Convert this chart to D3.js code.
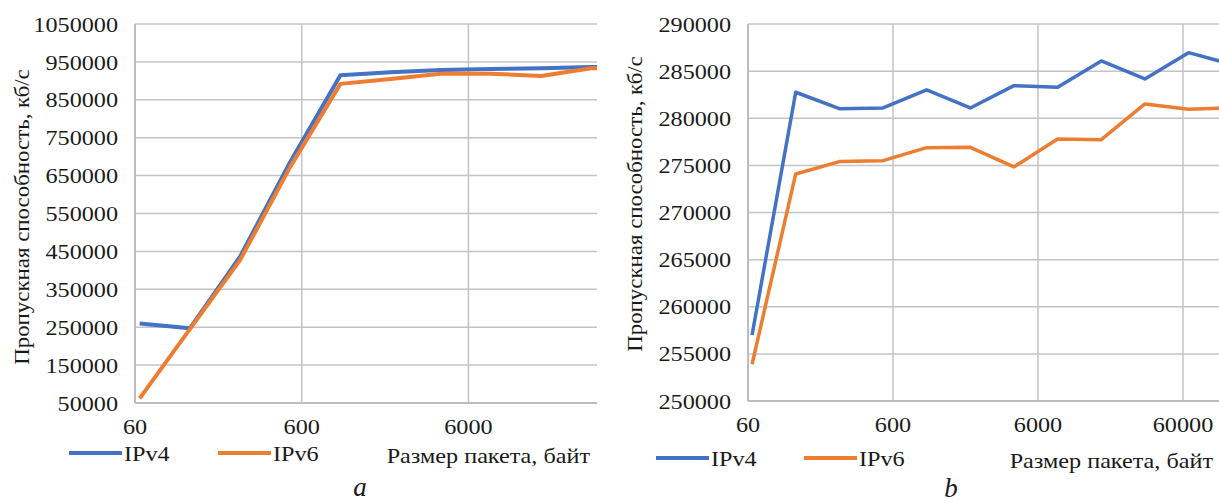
<!DOCTYPE html>
<html>
<head>
<meta charset="utf-8">
<script src="https://cdn.jsdelivr.net/npm/d3@7"></script>
<style>
  html, body { margin: 0; padding: 0; background: #fff; }
  svg { display: block; }
  text { font-family: 'Liberation Serif', 'DejaVu Serif', serif; fill: #1a1a1a; }
</style>
</head>
<body>
<svg id="chart" width="1219" height="503"></svg>
<script>
// packet sizes, bytes
const sizesA = [64, 128, 256, 512, 1024, 2048, 4096, 8192, 16384, 32768, 65536];
const ipv4A = [260000, 247000, 436000, 686000, 915000, 923000, 928500, 931000, 933500, 936500, 937500];
const ipv6A = [62000, 245000, 427000, 673000, 892000, 905000, 919000, 919000, 913000, 933000, 934000];

const sizesB = [64, 128, 256, 512, 1024, 2048, 4096, 8192, 16384, 32768, 65536, 131072];
const ipv4B = [257000, 282760, 281020, 281090, 283000, 281090, 283460, 283280, 286080, 284170, 286960, 285700];
const ipv6B = [253900, 274090, 275400, 275500, 276880, 276920, 274840, 277800, 277730, 281520, 280950, 281100];

const xTicksA = [60, 600, 6000];
const xTicksB = [60, 600, 6000, 60000];
const yTicksA = d3.range(50000, 1050001, 100000);
const yTicksB = d3.range(250000, 290001, 5000);

const seriesNames = ['IPv4', 'IPv6'];
const COLORS = ['#4472C4', '#ED7D31'];
const FS = 22;
const SX = 1.1; // glyphs in the source are a bit wide
const GRID = '#c4c4c4';
const yTitle = 'Пропускная способность, кб/с';
const xTitle = 'Размер пакета, байт';

const svg = d3.select('#chart');

function label(g, x, y, str, anchor) {
  return g.append('text')
    .attr('transform', `translate(${x},${y}) scale(${SX},1)`)
    .attr('text-anchor', anchor || 'start')
    .attr('font-size', FS)
    .text(str);
}

function drawPanel(p) {
  const g = svg.append('g');
  const x = d3.scaleLog().domain(p.xDomain).range([p.left, p.right]);
  const y = d3.scaleLinear().domain(p.yDomain).range([p.bottom, p.top]);

  const clipId = 'clip-' + p.id;
  g.append('clipPath').attr('id', clipId)
    .append('rect')
    .attr('x', p.left).attr('y', p.top - 5)
    .attr('width', p.right - p.left).attr('height', p.bottom - p.top + 10);

  // horizontal grid
  g.selectAll('.hgrid').data(p.yTicks).enter().append('line')
    .attr('x1', p.left).attr('x2', p.right)
    .attr('y1', d => y(d)).attr('y2', d => y(d))
    .attr('stroke', GRID).attr('stroke-width', 1.5);

  // vertical grid
  g.selectAll('.vgrid').data(p.xTicks).enter().append('line')
    .attr('x1', d => x(d)).attr('x2', d => x(d))
    .attr('y1', p.top).attr('y2', p.bottom)
    .attr('stroke', GRID).attr('stroke-width', 1.5);

  // axis lines
  g.append('line').attr('x1', p.left).attr('x2', p.left)
    .attr('y1', p.top).attr('y2', p.bottom)
    .attr('stroke', '#bdbdbd').attr('stroke-width', 2);
  g.append('line').attr('x1', p.left).attr('x2', p.right)
    .attr('y1', p.bottom).attr('y2', p.bottom)
    .attr('stroke', '#bdbdbd').attr('stroke-width', 2);

  // tick labels
  p.yTicks.forEach(d => {
    label(g, p.left - 17, y(d), d, 'end').attr('dominant-baseline', 'central');
  });
  p.xTicks.forEach(d => {
    label(g, x(d), p.bottom + 31, d, 'middle');
  });

  // lines
  const line = d3.line().x(d => x(d[0])).y(d => y(d[1]));
  const lineG = g.append('g').attr('clip-path', `url(#${clipId})`);
  p.series.forEach((vals, i) => {
    lineG.append('path')
      .datum(p.sizes.map((s, j) => [s, vals[j]]))
      .attr('d', line)
      .attr('fill', 'none')
      .attr('stroke', COLORS[i])
      .attr('stroke-width', p.lineWidth)
      .attr('stroke-linejoin', 'round');
  });

  // y title
  g.append('text')
    .attr('transform', `translate(${p.titleX},${p.titleY}) rotate(-90) scale(1.04,1)`)
    .attr('text-anchor', 'middle')
    .attr('dominant-baseline', 'central')
    .attr('font-size', FS)
    .text(yTitle);

  // legend
  seriesNames.forEach((name, i) => {
    const lx = p.legendX + i * p.legendStep;
    g.append('line')
      .attr('x1', lx).attr('x2', lx + 53)
      .attr('y1', p.legendY).attr('y2', p.legendY)
      .attr('stroke', COLORS[i]).attr('stroke-width', 4);
    label(g, lx + 55, p.legendY + 8, name, 'start');
  });
  label(g, p.xTitleX, p.legendY + 10, xTitle, 'end');

  // caption
  g.append('text')
    .attr('x', p.capX).attr('y', p.capY)
    .attr('text-anchor', 'middle')
    .attr('font-style', 'italic')
    .attr('font-size', 27)
    .text(p.caption);
}

drawPanel({
  id: 'a', sizes: sizesA, series: [ipv4A, ipv6A],
  left: 135, right: 597, top: 24, bottom: 403,
  xDomain: [60, 60 * Math.pow(10, 462 / 166.7)],
  yDomain: [50000, 1050000],
  xTicks: xTicksA, yTicks: yTicksA,
  lineWidth: 4,
  titleX: 22, titleY: 217,
  legendX: 69, legendStep: 149, legendY: 453,
  xTitleX: 590,
  capX: 360, capY: 496, caption: 'a'
});

drawPanel({
  id: 'b', sizes: sizesB, series: [ipv4B, ipv6B],
  left: 748, right: 1219, top: 24, bottom: 401,
  xDomain: [60, 60 * Math.pow(10, 471 / 145)],
  yDomain: [250000, 290000],
  xTicks: xTicksB, yTicks: yTicksB,
  lineWidth: 3.5,
  titleX: 635, titleY: 204,
  legendX: 656, legendStep: 148, legendY: 458,
  xTitleX: 1213,
  capX: 951, capY: 497, caption: 'b'
});
</script>
</body>
</html>
